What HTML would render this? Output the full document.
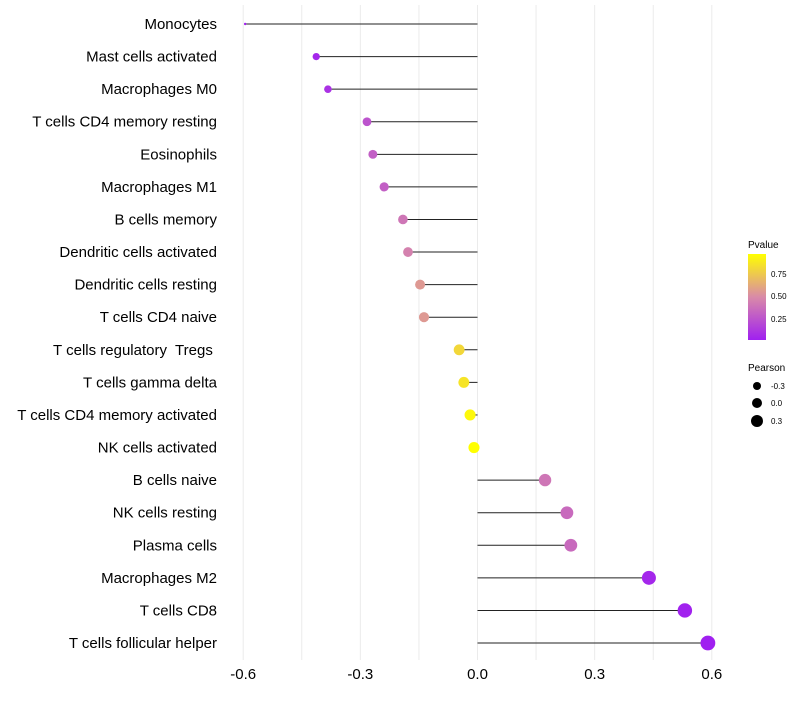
<!DOCTYPE html>
<html><head><meta charset="utf-8"><style>
body{margin:0;background:#fff;font-family:"Liberation Sans",sans-serif;}
svg text{font-family:"Liberation Sans",sans-serif;white-space:pre;}
</style></head><body>
<svg id="chart" width="800" height="700">
<defs><linearGradient id="pg" x1="0" y1="1" x2="0" y2="0">
<stop offset="0" stop-color="#a020f0"/><stop offset="0.5" stop-color="#d98aa8"/><stop offset="1" stop-color="#ffff00"/></linearGradient></defs>
<g id="grid"></g><g id="marks"></g><g id="labels"></g>
<g>
<text x="748" y="248" font-size="10" fill="#000">Pvalue</text>
<rect x="748" y="254" width="18" height="86" fill="url(#pg)"/>
<text x="771" y="277" font-size="8">0.75</text>
<text x="771" y="299" font-size="8">0.50</text>
<text x="771" y="322" font-size="8">0.25</text>
<text x="748" y="371" font-size="10">Pearson</text>
<circle cx="757" cy="386" r="4" fill="#000"/><text x="771" y="389" font-size="8">-0.3</text>
<circle cx="757" cy="403" r="5" fill="#000"/><text x="771" y="406" font-size="8">0.0</text>
<circle cx="757" cy="421" r="6" fill="#000"/><text x="771" y="424" font-size="8">0.3</text>
</g>
</svg>
<script>
const categories=["Monocytes","Mast cells activated","Macrophages M0","T cells CD4 memory resting","Eosinophils","Macrophages M1","B cells memory","Dendritic cells activated","Dendritic cells resting","T cells CD4 naive","T cells regulatory  Tregs ","T cells gamma delta","T cells CD4 memory activated","NK cells activated","B cells naive","NK cells resting","Plasma cells","Macrophages M2","T cells CD8","T cells follicular helper"];
const pearson=[-0.595,-0.413,-0.383,-0.283,-0.268,-0.239,-0.191,-0.178,-0.147,-0.137,-0.047,-0.035,-0.019,-0.009,0.173,0.229,0.239,0.439,0.531,0.59];
const pvalues=[0.02,0.05,0.1,0.25,0.3,0.3,0.4,0.45,0.55,0.55,0.8,0.85,0.93,0.96,0.4,0.35,0.35,0.05,0.03,0.02];
const xTicks=[-0.6,-0.3,0,0.3,0.6];
const xTickLabels=["-0.6","-0.3","0.0","0.3","0.6"];
const NS="http://www.w3.org/2000/svg";
const x=v=>477.5+v*390.5;
const y=i=>24+i*32.58;
function mk(t,a,p){const e=document.createElementNS(NS,t);for(const k in a)e.setAttribute(k,a[k]);p.appendChild(e);return e;}
function lerp(a,b,t){return a.map((v,i)=>Math.round(v+(b[i]-v)*t));}
function col(p){const t=Math.max(0,Math.min(1,(p-0.02)/0.94));const A=[160,32,240],M=[217,138,168],B=[255,255,0];
const c=t<0.5?lerp(A,M,t*2):lerp(M,B,(t-0.5)*2);return `rgb(${c})`;}
const grid=document.getElementById('grid'),marks=document.getElementById('marks'),labels=document.getElementById('labels');
for(let v=-0.6;v<=0.61;v+=0.15){const g=mk('line',{x1:x(v),x2:x(v),y1:5,y2:660,stroke:'#ebebeb','stroke-width':1},grid);

}
xTicks.forEach((v,i)=>{const t=mk('text',{x:x(v),y:679,'font-size':15,'text-anchor':'middle',fill:'#000'},labels);t.textContent=xTickLabels[i];

});
const mn=Math.min(...pearson),mx=Math.max(...pearson);
categories.forEach((c,i)=>{
const t=mk('text',{x:217,y:y(i)+5,'font-size':15,'text-anchor':'end',fill:'#000'},labels);t.textContent=c;


const l=mk('line',{x1:x(0),x2:x(pearson[i]),y1:y(i),y2:y(i),stroke:'#222','stroke-width':1},marks);


const r=1.2+6.2*Math.sqrt((pearson[i]-mn)/(mx-mn));
const d=mk('circle',{cx:x(pearson[i]),cy:y(i),r:r,fill:col(pvalues[i])},marks);


});
</script>
</body></html>
